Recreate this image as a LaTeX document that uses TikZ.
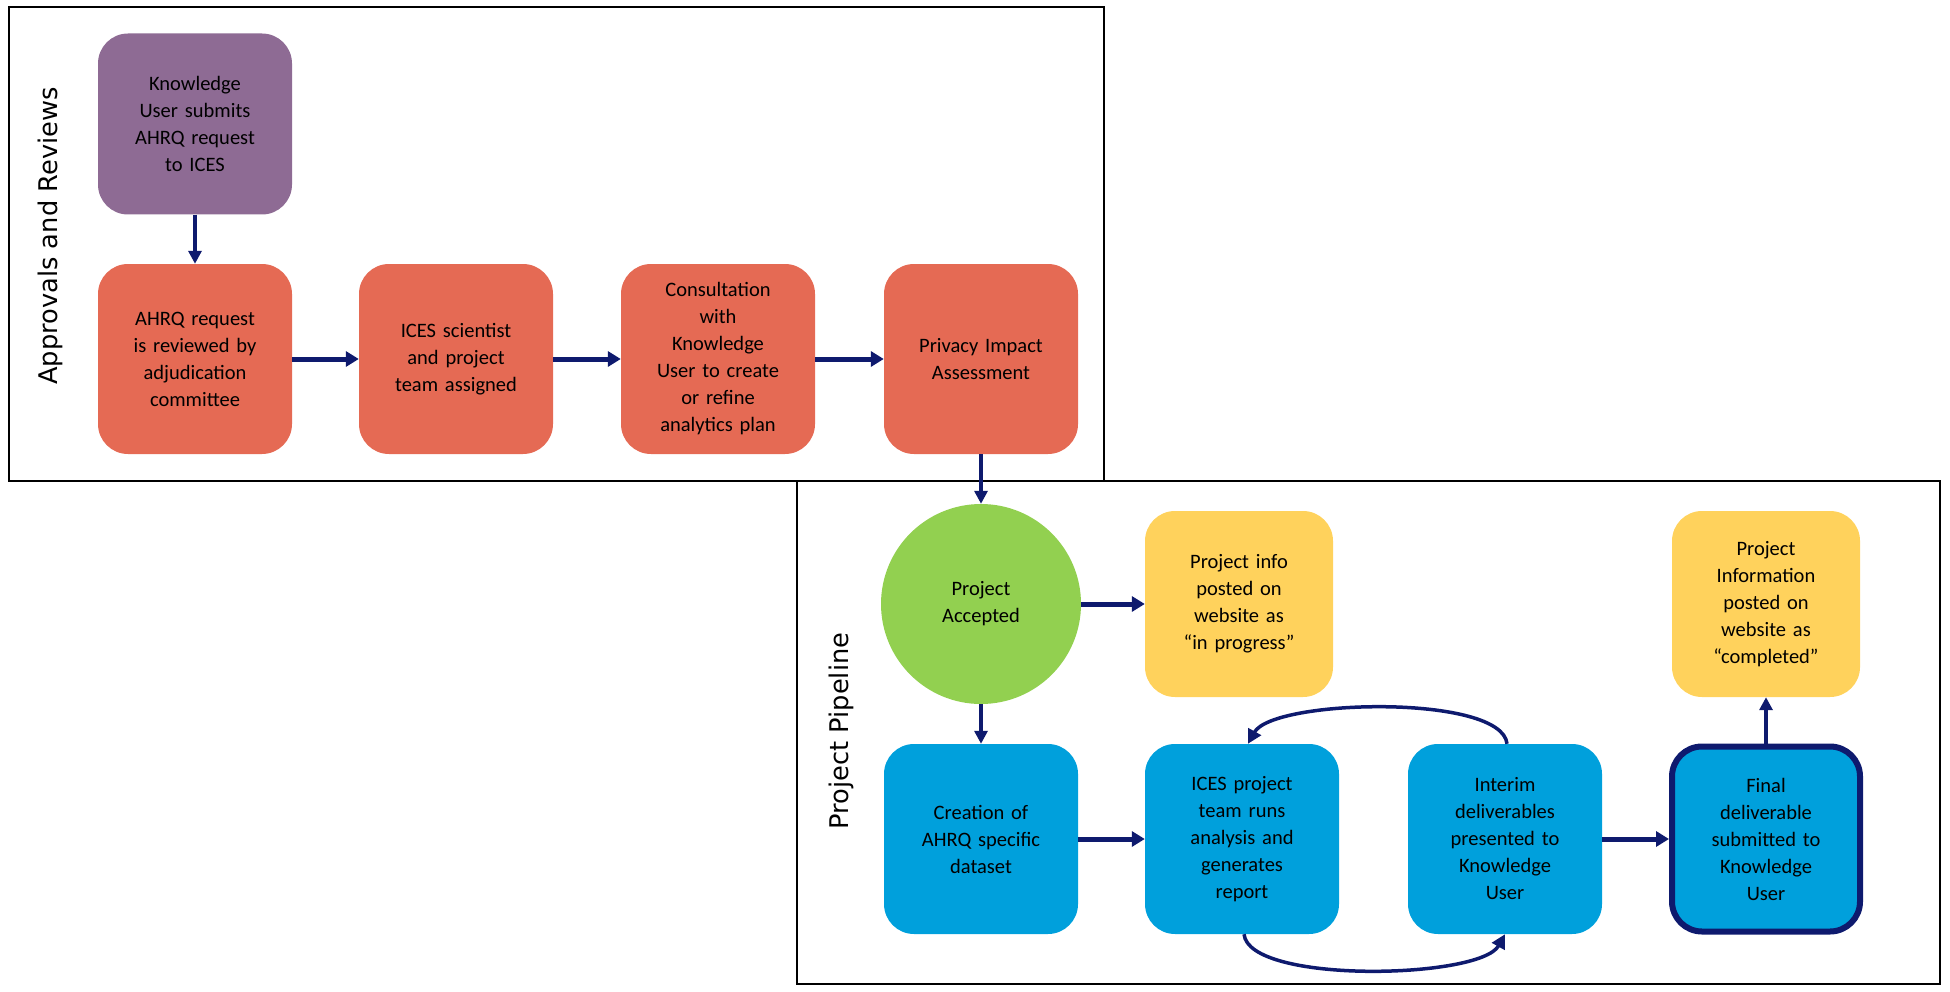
\documentclass[tikz,border=0pt]{standalone}
\usepackage{fontspec}
\setmainfont{Carlito}
\newfontfamily\sidefont{DejaVu Sans}
\usetikzlibrary{arrows.meta}
\definecolor{navy}{RGB}{14,26,110}
\definecolor{purp}{RGB}{142,107,148}
\definecolor{redbox}{RGB}{229,106,84}
\definecolor{greenc}{RGB}{146,208,80}
\definecolor{yellowbox}{RGB}{255,210,92}
\definecolor{bluebox}{RGB}{0,160,220}
\tikzset{
  boxbase/.style={rectangle, rounded corners=30pt, minimum width=194pt, minimum height=190pt,
    text width=180pt, align=center, inner sep=0pt, text=black,
    font=\fontsize{20.5}{27}\selectfont},
  purplebox/.style={boxbase, fill=purp, minimum height=181pt},
  redstep/.style={boxbase, fill=redbox},
  yellowstep/.style={boxbase, fill=yellowbox, minimum width=188pt, minimum height=186pt},
  bluestep/.style={boxbase, fill=bluebox},
  finalstep/.style={boxbase, fill=bluebox, draw=navy, line width=6pt, minimum width=188pt, minimum height=185pt},
  acceptcircle/.style={circle, fill=greenc, minimum size=200pt, inner sep=0pt, align=center,
    font=\fontsize{20.5}{27}\selectfont},
  frame/.style={draw=black, line width=1.8pt},
  sidelabel/.style={rotate=90, font=\sidefont\fontsize{25.7}{30}\selectfont, inner sep=0pt},
  thickarrow/.style={draw=navy, line width=5pt, -{Triangle[length=13pt,width=15pt]}},
  thinarrow/.style={draw=navy, line width=3.2pt, -{Triangle[length=13pt,width=13pt]}},
  curvearrow/.style={draw=navy, line width=3.5pt, -{Triangle[length=14pt,width=14pt]}},
}
\begin{document}
\begin{tikzpicture}[x=1pt,y=-1pt]
\useasboundingbox (0,0) rectangle (1950,992);
% frames
\draw[frame] (9,7) rectangle (1104,481);
\draw[frame] (797,481) rectangle (1940,984);
% side labels
\node[sidelabel] (lab1) at (50,236) {Approvals and Reviews};
\node[sidelabel] (lab2) at (841,731) {Project Pipeline};
% top row
\node[purplebox] (p1) at (195,124) {Knowledge\\User submits\\AHRQ request\\to ICES};
\node[redstep] (r1) at (195,359) {AHRQ request\\is reviewed by\\adjudication\\committee};
\node[redstep] (r2) at (456,359) {ICES scientist\\and project\\team assigned};
\node[redstep] (r3) at (718,359) {Consultation\\with\\Knowledge\\User to create\\or refine\\analytics plan};
\node[redstep] (r4) at (981,359) {Privacy Impact\\Assessment};
% pipeline
\node[acceptcircle] (acc) at (981,604) {Project\\Accepted};
\node[yellowstep] (y1) at (1239,604) {Project info\\posted on\\website as\\``in progress''};
\node[yellowstep] (y2) at (1766,604) {Project\\Information\\posted on\\website as\\``completed''};
\node[bluestep] (b1) at (981,839) {Creation of\\AHRQ specific\\dataset};
\node[bluestep] (b2) at (1242,839) {ICES project\\team runs\\analysis and\\generates\\report};
\node[bluestep] (b3) at (1505,839) {Interim\\deliverables\\presented to\\Knowledge\\User};
\node[finalstep] (b4) at (1766,839) {Final\\deliverable\\submitted to\\Knowledge\\User};
% arrows
\draw[thinarrow] (p1.south) -- (r1.north);
\draw[thickarrow] (r1.east) -- (r2.west);
\draw[thickarrow] (r2.east) -- (r3.west);
\draw[thickarrow] (r3.east) -- (r4.west);
\draw[thinarrow] (r4.south) -- (acc.north);
\draw[thickarrow] (acc.east) -- (y1.west);
\draw[thinarrow] (acc.south) -- (b1.north);
\draw[thickarrow] (b1.east) -- (b2.west);
\draw[thickarrow] (b3.east) -- (b4.west);
\draw[thinarrow] (b4.north) -- (y2.south);
\draw[curvearrow] ([xshift=2pt]b3.north) .. controls +(-5,-50) and +(25,-45) .. ([xshift=6pt]b2.north);
\draw[curvearrow] ([xshift=2pt]b2.south) .. controls +(5,50) and +(-25,45) .. ([xshift=0pt]b3.south);
\end{tikzpicture}
\end{document}
